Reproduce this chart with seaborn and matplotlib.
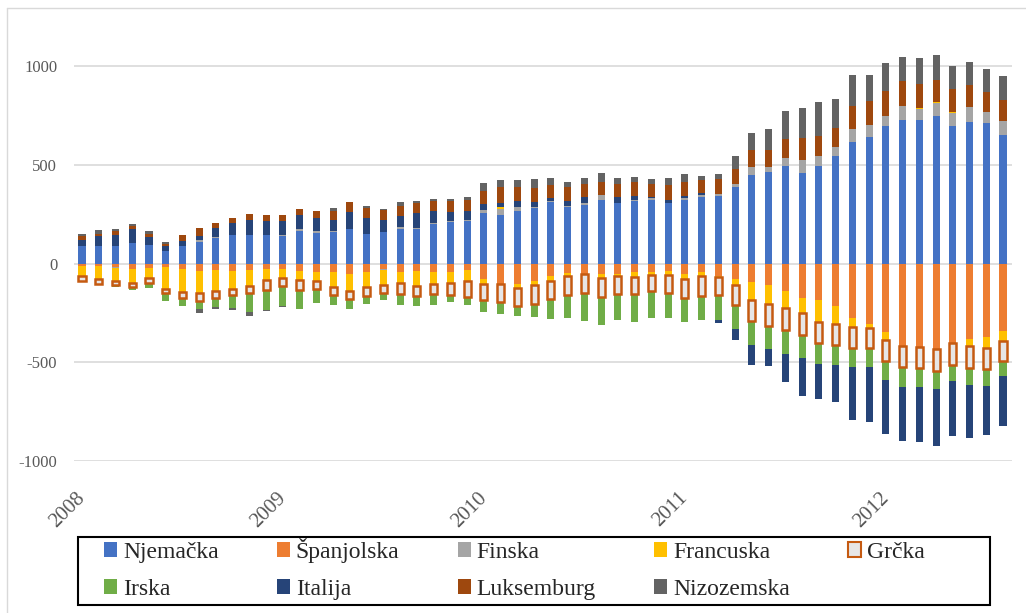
import numpy as np
import matplotlib
matplotlib.use('Agg')
import matplotlib.pyplot as plt
import matplotlib.transforms as mtransforms
from matplotlib.patches import Patch, Rectangle
from matplotlib.lines import Line2D
import seaborn as sns

# monthly values, Jan 2008 - Aug 2012
year_labels = ['2008', '2009', '2010', '2011', '2012']

njemacka = [88, 91, 91, 103, 94, 64, 91, 111, 131, 145, 148, 148, 138, 168, 158, 162,
            177, 152, 162, 178, 177, 199, 209, 216, 258, 248, 268, 281, 312, 286, 300, 325,
            306, 320, 325, 306, 325, 337, 345, 388, 449, 464, 495, 461, 495, 546, 616, 642,
            698, 730, 726, 750, 698, 718, 713, 654]
spanjolska = [-13, -10, -17, -27, -24, -19, -29, -35, -30, -35, -32, -29, -28, -35, -40, -44,
              -51, -40, -29, -40, -35, -40, -44, -34, -77, -104, -103, -86, -61, -45, -51, -52,
              -51, -44, -40, -35, -52, -44, -64, -78, -91, -106, -137, -174, -182, -213, -275, -304,
              -345, -415, -422, -432, -402, -382, -372, -339]
finska = [2, -3, -7, 0, 3, 0, 0, 7, 3, 3, 0, 0, 7, 8, 7, 5,
          0, -3, -2, 7, 5, 5, 5, 7, 12, 29, 19, 7, 7, 7, 7, 22,
          3, 3, 8, 4, 8, 10, 7, 17, 41, 24, 41, 66, 52, 44, 69, 61,
          51, 69, 57, 64, 66, 74, 54, 71]
francuska = [-47, -64, -62, -72, -51, -108, -115, -115, -108, -91, -83, -56, -45, -49, -47, -74,
             -88, -77, -76, -59, -76, -64, -52, -54, -25, 8, -19, -22, -29, -19, -3, -22,
             -13, -24, -19, -24, -27, -20, -2, -30, -95, -100, -86, -78, -111, -91, -46, -22,
             -44, -3, 5, 8, 7, -37, -54, -54]
grcka = [-27, -27, -24, -19, -24, -24, -32, -37, -37, -35, -35, -47, -38, -47, -40, -40,
         -40, -45, -42, -56, -51, -52, -62, -81, -84, -88, -91, -96, -89, -94, -96, -93,
         -89, -86, -81, -88, -96, -98, -94, -100, -103, -108, -111, -108, -111, -110, -106, -101,
         -106, -106, -108, -110, -110, -111, -108, -101]
irska = [-3, -5, -10, -13, -22, -40, -40, -45, -44, -62, -93, -103, -104, -98, -71, -52,
         -49, -39, -35, -52, -54, -51, -35, -42, -57, -64, -52, -66, -103, -116, -138, -145,
         -133, -140, -136, -128, -121, -125, -125, -122, -122, -117, -122, -117, -106, -98, -96, -96,
         -96, -103, -93, -93, -83, -84, -84, -76]
italija = [30, 50, 57, 71, 39, 27, 25, 24, 47, 56, 72, 67, 70, 71, 67, 52,
           83, 81, 57, 56, 74, 62, 47, 44, 35, 22, 32, 27, 15, 25, 30, 0,
           27, 22, 3, 14, 12, 10, -15, -57, -103, -88, -145, -193, -177, -191, -270, -280,
           -270, -270, -280, -289, -280, -269, -248, -253]
luksemburg = [20, 8, 18, 17, 15, 10, 27, 39, 25, 27, 30, 32, 32, 32, 37, 47,
              54, 47, 51, 54, 51, 51, 56, 54, 61, 84, 69, 69, 66, 72, 67, 69,
              67, 67, 66, 74, 71, 67, 75, 73, 84, 86, 96, 110, 101, 96, 115, 123,
              128, 127, 123, 111, 113, 113, 105, 105]
nizozemska = [10, 22, 12, 8, 13, 7, 5, -17, -13, -12, -24, -3, -4, -3, -3, 15,
              -3, 13, 8, 17, 13, 12, 12, 17, 42, 34, 37, 45, 34, 25, 29, 42,
              32, 29, 25, 37, 37, 22, 30, 66, 91, 108, 144, 150, 172, 147, 155, 133,
              142, 123, 132, 125, 118, 117, 117, 123]

series = [
    ('Njemačka', njemacka, '#4472C4'),
    ('Španjolska', spanjolska, '#ED7D31'),
    ('Finska', finska, '#A5A5A5'),
    ('Francuska', francuska, '#FFC000'),
    ('Grčka', grcka, '#E7E6E6'),
    ('Irska', irska, '#70AD47'),
    ('Italija', italija, '#264478'),
    ('Luksemburg', luksemburg, '#9E480E'),
    ('Nizozemska', nizozemska, '#636363'),
]
GRCKA_EDGE = '#C55A11'

sns.set_theme(style='white')
plt.rcParams['font.family'] = ['Liberation Serif', 'DejaVu Serif']
plt.rcParams['axes.unicode_minus'] = False

fig, ax = plt.subplots(figsize=(10.26, 6.13), dpi=100)
fig.subplots_adjust(left=0.0721, right=0.9864, bottom=0.248, top=0.956)

n = len(njemacka)
x = np.arange(n)
pos_base = np.zeros(n)
neg_base = np.zeros(n)
handles = {}
for name, vals, color in series:
    v = np.array(vals, dtype=float)
    base = np.where(v >= 0, pos_base, neg_base)
    if name == 'Grčka':
        ax.bar(x, v, bottom=base, width=0.42, color=color, edgecolor=GRCKA_EDGE,
               linewidth=1.8, zorder=3)
        handles[name] = Patch(facecolor=color, edgecolor=GRCKA_EDGE, linewidth=1.5)
    else:
        ax.bar(x, v, bottom=base, width=0.42, color=color, linewidth=0, zorder=2)
        handles[name] = Patch(facecolor=color, linewidth=0)
    pos_base += np.clip(v, 0, None)
    neg_base += np.clip(v, None, 0)

ax.set_xlim(-0.48, n - 1 + 0.54)
ax.set_ylim(-1000, 1200)
ax.set_yticks([-1000, -500, 0, 500, 1000])
ax.yaxis.grid(True, color='#D9D9D9', linewidth=1.2)
ax.xaxis.grid(False)
ax.set_axisbelow(True)
sns.despine(ax=ax, left=True, bottom=True)
ax.tick_params(axis='y', length=0, pad=12, labelsize=12, labelcolor='#595959')

ax.set_xticks(np.arange(0, n, 12))
ax.set_xticklabels(year_labels, rotation=45, ha='right', fontsize=15, color='#595959')
ax.tick_params(axis='x', length=0, pad=20)
offset = mtransforms.ScaledTranslation(7 / 100, 0, fig.dpi_scale_trans)
for lbl in ax.get_xticklabels():
    lbl.set_transform(lbl.get_transform() + offset)

# legend, filled row by row
order = ['Njemačka', 'Irska', 'Španjolska', 'Italija', 'Finska', 'Luksemburg',
         'Francuska', 'Nizozemska', 'Grčka']
W, H = 1026, 613
fig.legend([handles[k] for k in order], order, ncol=5, mode='expand',
           loc='upper left', bbox_to_anchor=(104 / W, 1 - 544 / H, (925 - 104) / W, 0.01),
           bbox_transform=fig.transFigure, frameon=False, fontsize=17,
           handlelength=0.55, handleheight=0.55, handletextpad=0.25,
           labelspacing=0.68, borderpad=0, borderaxespad=0)
fig.add_artist(Rectangle((78 / W, 1 - 605 / H), (990 - 78) / W, (605 - 537) / H,
                         transform=fig.transFigure, fill=False, edgecolor='black',
                         linewidth=1.5))

# chart area border (top and left visible)
fig.add_artist(Line2D([7 / W, 7 / W], [0, 1 - 8 / H], transform=fig.transFigure,
                      color='#D9D9D9', linewidth=1))
fig.add_artist(Line2D([7 / W, 1], [1 - 8 / H, 1 - 8 / H], transform=fig.transFigure,
                      color='#D9D9D9', linewidth=1))

fig.savefig('out.png', dpi=100)
